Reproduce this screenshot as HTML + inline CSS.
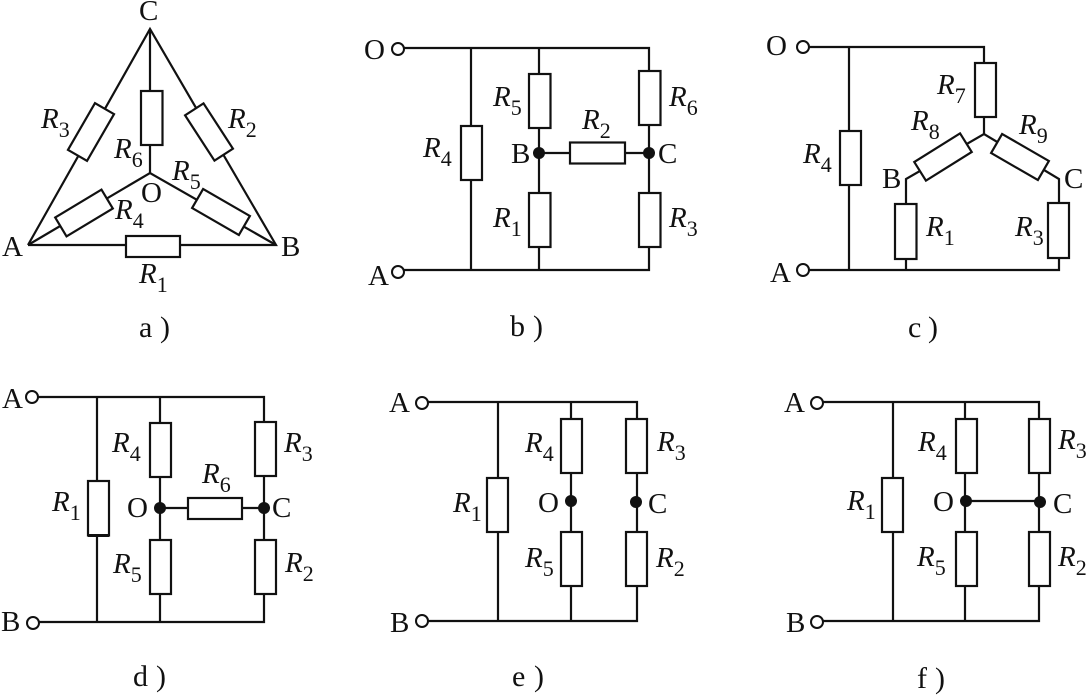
<!DOCTYPE html>
<html><head><meta charset="utf-8"><style>
html,body{margin:0;padding:0;background:#fff}
svg{display:block}
text{font-family:"Liberation Serif",serif;font-size:29px;fill:#111}
.i{font-style:italic}
.s{font-size:22px}
.cap{font-size:30px}
line,polyline{stroke:#111;stroke-width:2.2;fill:none}
rect{stroke:#111;stroke-width:2.2;fill:#fff}
circle.o{stroke:#111;stroke-width:2;fill:#fff}
circle.d{fill:#111}
</style></head><body>
<svg width="1088" height="695" viewBox="0 0 1088 695" xmlns="http://www.w3.org/2000/svg">
<!-- a -->
<polyline points="28,245 150,29 276,245 28,245"/>
<line x1="150" y1="29" x2="150" y2="173"/>
<polyline points="28,245 150,173 276,245"/>
<rect x="141" y="91" width="21.500" height="54"/>
<rect x="126" y="236" width="54" height="21"/>
<rect x="-27" y="-11" width="54" height="22" transform="translate(91 132) rotate(-60)"/>
<rect x="-27" y="-11" width="54" height="22" transform="translate(209 132) rotate(57)"/>
<rect x="-27" y="-11" width="54" height="22" transform="translate(84 213) rotate(-31)"/>
<rect x="-27" y="-11" width="54" height="22" transform="translate(221 212) rotate(30)"/>
<text x="139" y="20">C</text>
<text x="2" y="256">A</text>
<text x="281" y="256">B</text>
<text x="141" y="202">O</text>
<text x="41" y="128"><tspan class="i">R</tspan><tspan class="s" dy="9">3</tspan></text>
<text x="228" y="128"><tspan class="i">R</tspan><tspan class="s" dy="9">2</tspan></text>
<text x="114" y="158"><tspan class="i">R</tspan><tspan class="s" dy="9">6</tspan></text>
<text x="172" y="180"><tspan class="i">R</tspan><tspan class="s" dy="9">5</tspan></text>
<text x="115" y="219"><tspan class="i">R</tspan><tspan class="s" dy="9">4</tspan></text>
<text x="139" y="283"><tspan class="i">R</tspan><tspan class="s" dy="9">1</tspan></text>
<text class="cap" x="139" y="337">a<tspan x="160">)</tspan></text>
<!-- b -->
<circle class="o" cx="398" cy="49" r="6"/>
<circle class="o" cx="398" cy="272" r="6"/>
<polyline points="404,48 649,48 649,270 404,270"/>
<line x1="471" y1="48" x2="471" y2="270"/>
<line x1="539" y1="48" x2="539" y2="270"/>
<line x1="539" y1="153" x2="649" y2="153"/>
<rect x="461" y="126" width="21" height="54"/>
<rect x="529" y="74" width="21.500" height="54"/>
<rect x="529" y="193" width="21.500" height="54"/>
<rect x="639" y="71" width="21.500" height="54"/>
<rect x="639" y="193" width="21.500" height="54"/>
<rect x="570" y="142.500" width="55" height="21"/>
<circle class="d" cx="539" cy="153" r="6"/>
<circle class="d" cx="649" cy="153" r="6"/>
<text x="364" y="59">O</text>
<text x="368" y="285">A</text>
<text x="511" y="163">B</text>
<text x="658" y="163">C</text>
<text x="423" y="157"><tspan class="i">R</tspan><tspan class="s" dy="9">4</tspan></text>
<text x="493" y="106"><tspan class="i">R</tspan><tspan class="s" dy="9">5</tspan></text>
<text x="493" y="227"><tspan class="i">R</tspan><tspan class="s" dy="9">1</tspan></text>
<text x="669" y="106"><tspan class="i">R</tspan><tspan class="s" dy="9">6</tspan></text>
<text x="669" y="227"><tspan class="i">R</tspan><tspan class="s" dy="9">3</tspan></text>
<text x="582" y="129"><tspan class="i">R</tspan><tspan class="s" dy="9">2</tspan></text>
<text class="cap" x="510" y="336">b<tspan x="533">)</tspan></text>
<!-- c -->
<circle class="o" cx="803" cy="47" r="6"/>
<circle class="o" cx="803" cy="270" r="6"/>
<polyline points="809,47 984,47 984,134"/>
<polyline points="809,270 1059,270 1059,179 984,134 906,179 906,270"/>
<line x1="849" y1="47" x2="849" y2="270"/>
<rect x="840" y="131" width="21" height="54"/>
<rect x="975" y="63" width="21" height="54"/>
<rect x="895" y="204" width="21.500" height="55"/>
<rect x="1048" y="203" width="21" height="55"/>
<rect x="-27" y="-11" width="54" height="22" transform="translate(943 157) rotate(-32)"/>
<rect x="-27" y="-11" width="54" height="22" transform="translate(1020 157) rotate(30)"/>
<text x="766" y="55">O</text>
<text x="770" y="282">A</text>
<text x="882" y="188">B</text>
<text x="1064" y="188">C</text>
<text x="803" y="163"><tspan class="i">R</tspan><tspan class="s" dy="9">4</tspan></text>
<text x="937" y="94"><tspan class="i">R</tspan><tspan class="s" dy="9">7</tspan></text>
<text x="911" y="130"><tspan class="i">R</tspan><tspan class="s" dy="9">8</tspan></text>
<text x="1019" y="134"><tspan class="i">R</tspan><tspan class="s" dy="9">9</tspan></text>
<text x="926" y="236"><tspan class="i">R</tspan><tspan class="s" dy="9">1</tspan></text>
<text x="1015" y="236"><tspan class="i">R</tspan><tspan class="s" dy="9">3</tspan></text>
<text class="cap" x="908" y="337">c<tspan x="928">)</tspan></text>
<!-- d -->
<circle class="o" cx="32" cy="397" r="6"/>
<circle class="o" cx="33" cy="623" r="6"/>
<polyline points="38,397 264,397 264,622 39,622"/>
<line x1="97" y1="397" x2="97" y2="622"/>
<line x1="160" y1="397" x2="160" y2="622"/>
<line x1="160" y1="508" x2="264" y2="508"/>
<rect x="88" y="481" width="21" height="54.500"/>
<line x1="88" y1="535.500" x2="109" y2="535.500" style="stroke-width:3"/>
<rect x="150" y="423" width="21" height="54"/>
<rect x="150" y="540" width="21" height="54"/>
<rect x="255" y="422" width="21" height="54"/>
<rect x="255" y="540" width="21" height="54"/>
<rect x="188" y="498" width="54" height="21"/>
<circle class="d" cx="160" cy="508" r="6"/>
<circle class="d" cx="264" cy="508" r="6"/>
<text x="2" y="408">A</text>
<text x="1" y="631">B</text>
<text x="127" y="517">O</text>
<text x="272" y="517">C</text>
<text x="52" y="511"><tspan class="i">R</tspan><tspan class="s" dy="9">1</tspan></text>
<text x="112" y="452"><tspan class="i">R</tspan><tspan class="s" dy="9">4</tspan></text>
<text x="113" y="573"><tspan class="i">R</tspan><tspan class="s" dy="9">5</tspan></text>
<text x="284" y="452"><tspan class="i">R</tspan><tspan class="s" dy="9">3</tspan></text>
<text x="285" y="572"><tspan class="i">R</tspan><tspan class="s" dy="9">2</tspan></text>
<text x="202" y="483"><tspan class="i">R</tspan><tspan class="s" dy="9">6</tspan></text>
<text class="cap" x="133" y="686">d<tspan x="156">)</tspan></text>
<!-- e -->
<circle class="o" cx="422" cy="403" r="6"/>
<circle class="o" cx="422" cy="621" r="6"/>
<polyline points="428,402 637,402 637,621 428,621"/>
<line x1="498" y1="402" x2="498" y2="621"/>
<line x1="571" y1="402" x2="571" y2="621"/>
<rect x="487" y="478" width="21" height="54"/>
<rect x="561" y="419" width="21" height="54"/>
<rect x="561" y="532" width="21" height="54"/>
<rect x="626" y="419" width="21" height="54"/>
<rect x="626" y="532" width="21" height="54"/>
<circle class="d" cx="571" cy="501" r="6"/>
<circle class="d" cx="636" cy="502" r="6"/>
<text x="389" y="412">A</text>
<text x="390" y="632">B</text>
<text x="538" y="512">O</text>
<text x="648" y="513">C</text>
<text x="453" y="512"><tspan class="i">R</tspan><tspan class="s" dy="9">1</tspan></text>
<text x="525" y="452"><tspan class="i">R</tspan><tspan class="s" dy="9">4</tspan></text>
<text x="525" y="567"><tspan class="i">R</tspan><tspan class="s" dy="9">5</tspan></text>
<text x="657" y="451"><tspan class="i">R</tspan><tspan class="s" dy="9">3</tspan></text>
<text x="656" y="567"><tspan class="i">R</tspan><tspan class="s" dy="9">2</tspan></text>
<text class="cap" x="512" y="686">e<tspan x="534">)</tspan></text>
<!-- f -->
<circle class="o" cx="817" cy="403" r="6"/>
<circle class="o" cx="817" cy="622" r="6"/>
<polyline points="823,402 1039,402 1039,621 823,621"/>
<line x1="893" y1="402" x2="893" y2="621"/>
<line x1="965" y1="402" x2="965" y2="621"/>
<line x1="966" y1="501" x2="1039" y2="501"/>
<rect x="882" y="478" width="21" height="54"/>
<rect x="956" y="419" width="21" height="54"/>
<rect x="956" y="532" width="21" height="54"/>
<rect x="1029" y="419" width="21" height="54"/>
<rect x="1029" y="532" width="21" height="54"/>
<circle class="d" cx="966" cy="501" r="6"/>
<circle class="d" cx="1040" cy="502" r="6"/>
<text x="784" y="412">A</text>
<text x="786" y="632">B</text>
<text x="933" y="511">O</text>
<text x="1053" y="513">C</text>
<text x="847" y="510"><tspan class="i">R</tspan><tspan class="s" dy="9">1</tspan></text>
<text x="918" y="451"><tspan class="i">R</tspan><tspan class="s" dy="9">4</tspan></text>
<text x="917" y="566"><tspan class="i">R</tspan><tspan class="s" dy="9">5</tspan></text>
<text x="1058" y="449"><tspan class="i">R</tspan><tspan class="s" dy="9">3</tspan></text>
<text x="1058" y="566"><tspan class="i">R</tspan><tspan class="s" dy="9">2</tspan></text>
<text class="cap" x="917" y="688">f<tspan x="935">)</tspan></text>
</svg>
</body></html>
